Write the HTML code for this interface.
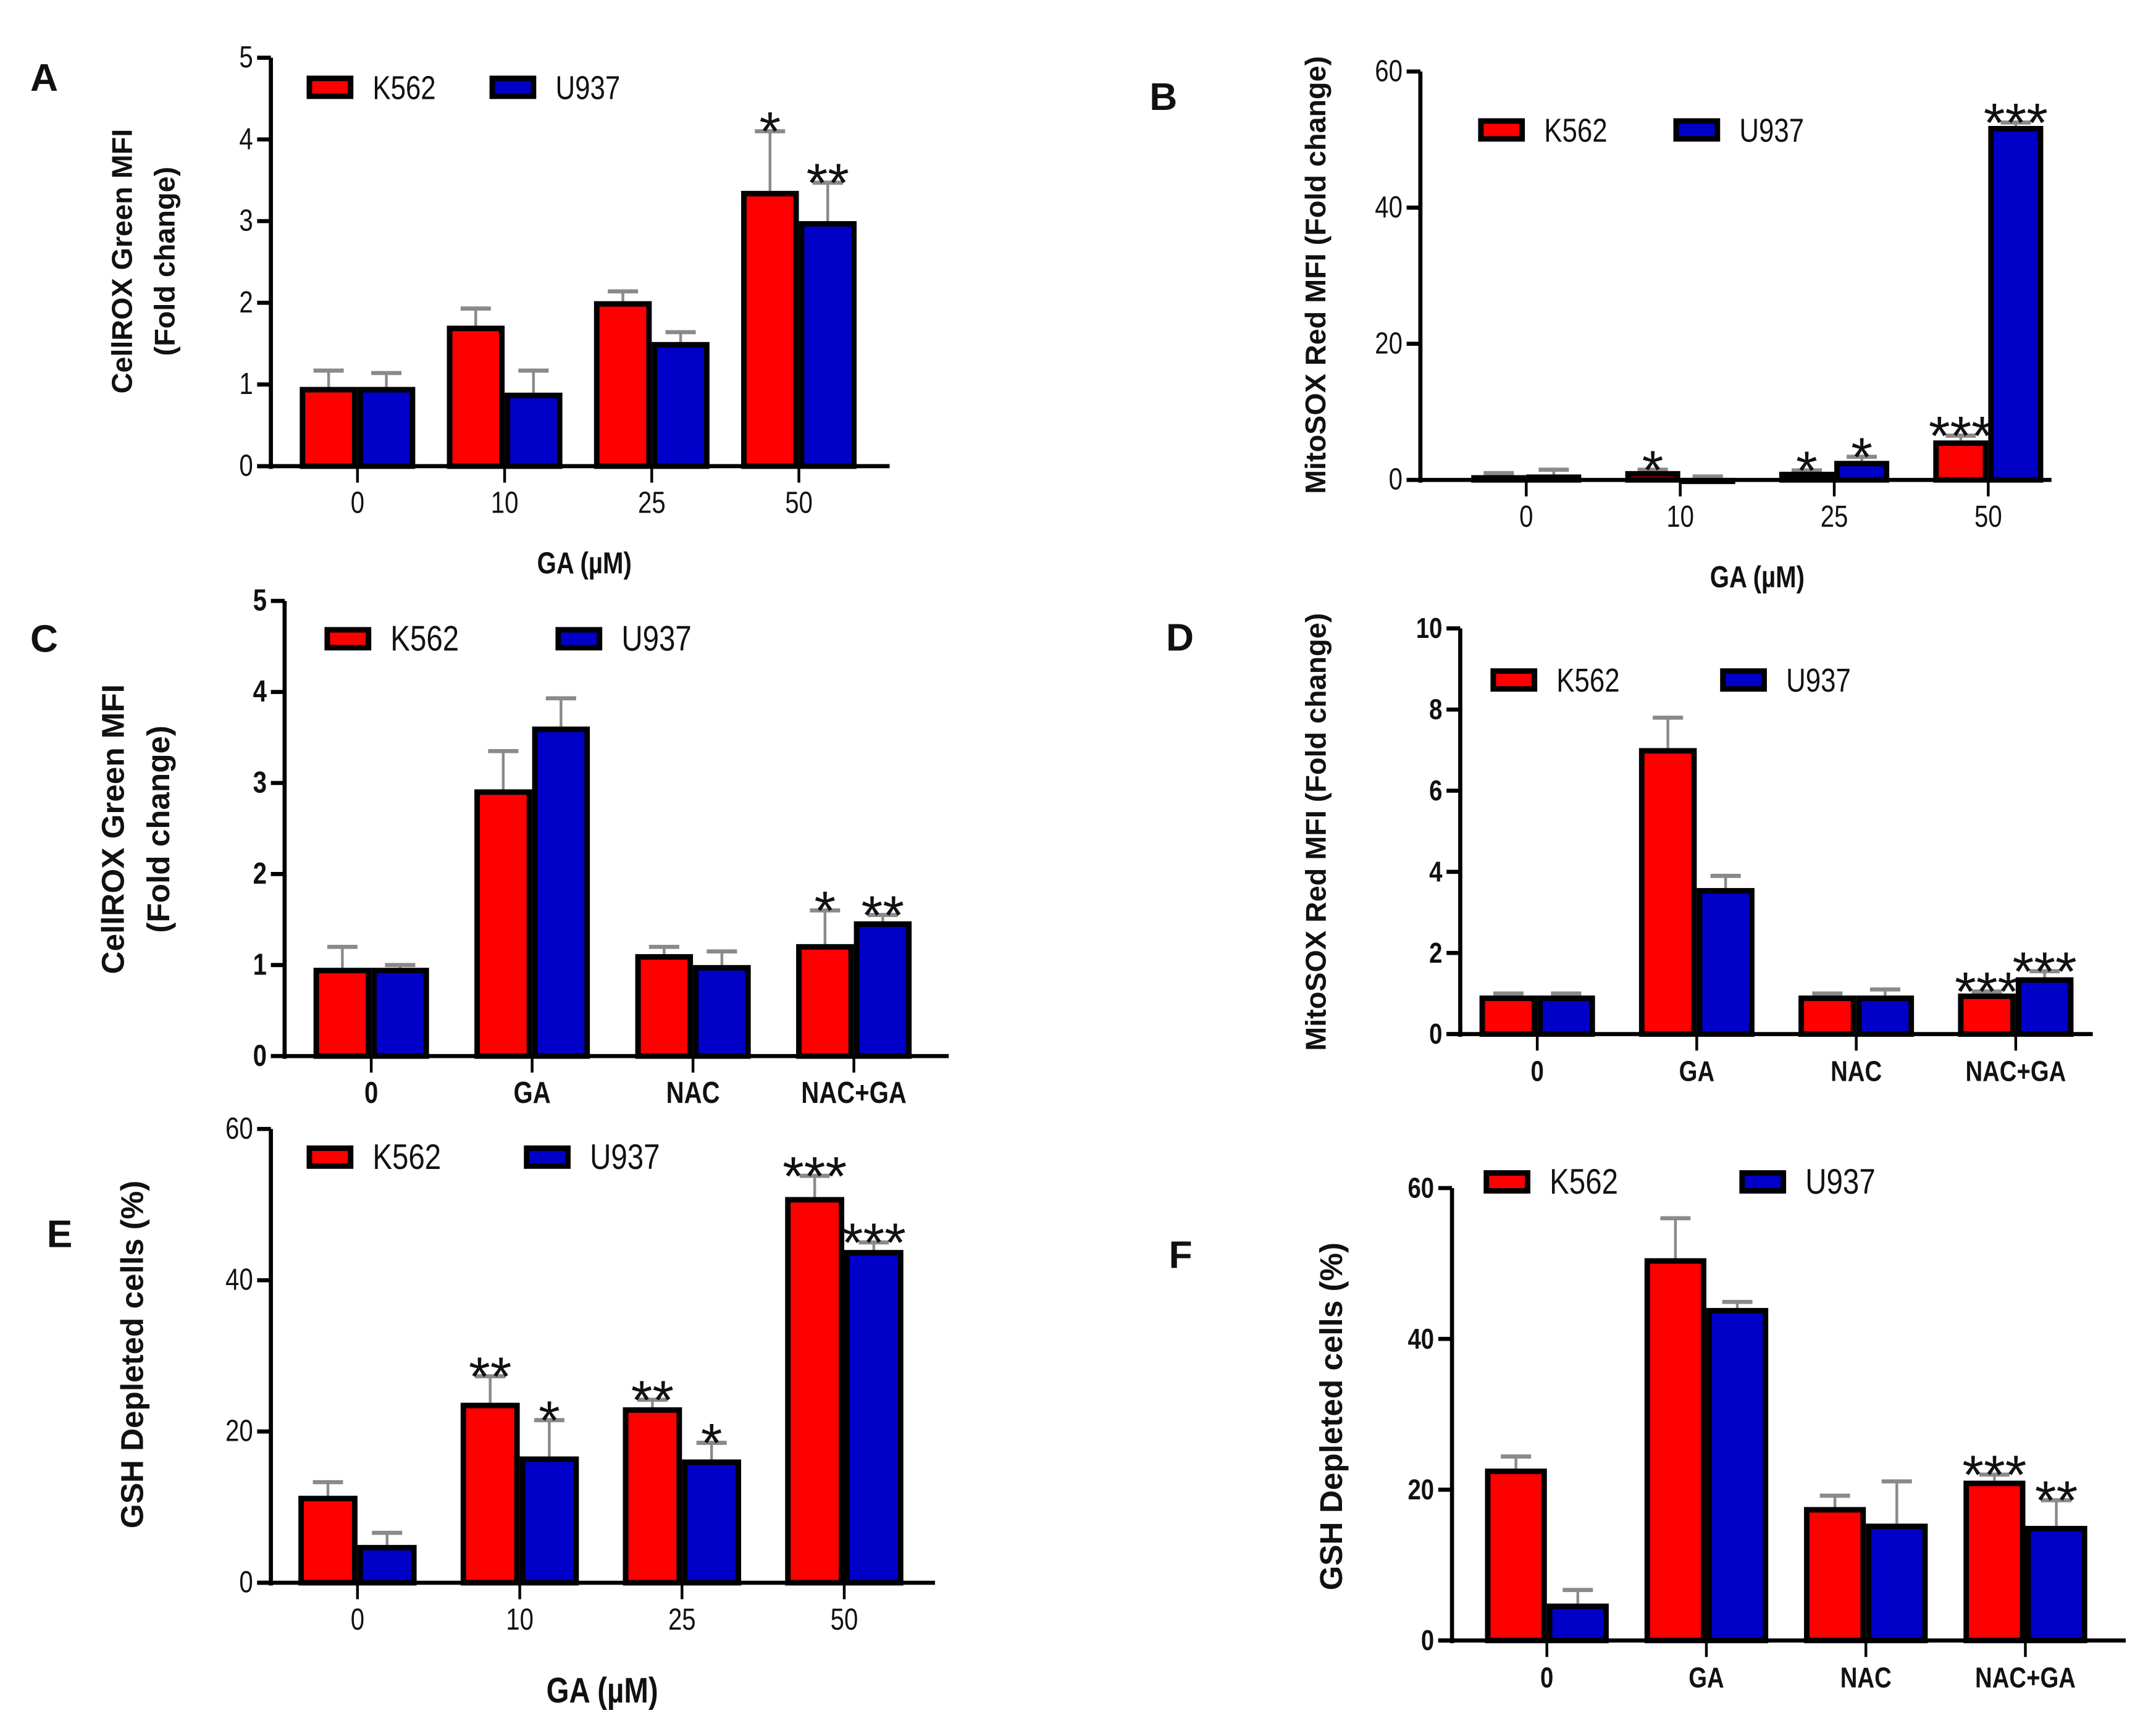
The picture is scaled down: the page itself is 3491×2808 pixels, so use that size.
<!DOCTYPE html>
<html><head><meta charset="utf-8"><style>
html,body{margin:0;padding:0;background:#fff}
svg{display:block}
text{font-family:"Liberation Sans",sans-serif;fill:#111}
.t{font-family:"Liberation Sans",sans-serif;font-weight:bold}
</style></head><body>
<svg id="fig" width="3491" height="2808" viewBox="0 0 1568 1261" preserveAspectRatio="none" xmlns="http://www.w3.org/2000/svg"></svg>
<script>
const catsGA = ["0","10","25","50"];
const catsTrt = ["0","GA","NAC","NAC+GA"];
const aK = [0.97,1.72,2.02,3.37], aKe = [1.17,1.93,2.14,4.1], aU = [0.97,0.9,1.52,3.0], aUe = [1.14,1.17,1.64,3.47];
const aKs = ["","","","*"], aUs = ["","","","**"];
const bK = [0.7,1.3,1.2,5.8], bKe = [1.0,1.5,1.4,6.5], bU = [0.8,0.3,2.8,52], bUe = [1.5,0.5,3.4,52.5];
const bKs = ["","*","*","***"], bUs = ["","","*","***"];
const cK = [0.97,2.93,1.12,1.23], cKe = [1.2,3.35,1.2,1.6], cU = [0.97,3.62,1.0,1.48], cUe = [1.0,3.93,1.15,1.55];
const cKs = ["","","","*"], cUs = ["","","","**"];
const dK = [0.95,7.05,0.95,1.0], dKe = [1.0,7.8,1.0,1.05], dU = [0.95,3.6,0.95,1.4], dUe = [1.0,3.9,1.1,1.55];
const dKs = ["","","","***"], dUs = ["","","","***"];
const eK = [11.5,23.8,23.2,51], eKe = [13.3,27.3,24.2,53.8], eU = [5,16.7,16.3,44], eUe = [6.6,21.5,18.5,45];
const eKs = ["","**","**","***"], eUs = ["","*","*","***"];
const fK = [22.8,50.7,17.7,21.2], fKe = [24.4,56,19.2,22], fU = [4.9,44.1,15.5,15.2], fUe = [6.7,44.9,21.1,18.6];
const fKs = ["","","","***"], fUs = ["","","","**"];
const ticksA = [0,1,2,3,4,5], ticksB = [0,20,40,60], ticksD = [0,2,4,6,8,10], ticksE = [0,20,40,60];

const NS = "http://www.w3.org/2000/svg";
const svg = document.getElementById('fig');
function mk(tag, attrs, parent, txt){
  const e = document.createElementNS(NS, tag);
  for (const k in attrs) e.setAttribute(k, attrs[k]);
  if (txt !== undefined) e.textContent = txt;
  (parent || svg).appendChild(e);
  return e;
}
function ntext(g, x, y, fs, anchor, txt, cls){
  const t = mk('text', {x:0, y:0, 'font-size':fs, 'text-anchor':anchor, transform:`translate(${x} ${y}) scale(0.82 1)`}, g, txt);
  if (cls) t.setAttribute('class', cls);
  return t;
}
function panel(p){
  const g = mk('g', {});
  
  
  const ymax = p.ticks[p.ticks.length-1];
  const Y = v => p.y0 - (v/ymax)*(p.y0 - p.y1);
  const lt = mk('text', {x:p.lx, y:p.ly, 'font-size':28, class:'t'}, g, p.id);
  
  
  const ya = mk('line', {x1:p.ax, y1:p.y0+2, x2:p.ax, y2:p.y1, stroke:'#000', 'stroke-width':3}, g);
  
  
  p.ticks.forEach(t => {
    const y = Y(t);
    mk('line', {x1:p.ax-10, y1:y, x2:p.ax, y2:y, stroke:'#000', 'stroke-width':3}, g);
    const tl = ntext(g, p.ax-13, y+7, p.fs, 'end', String(t), p.catBold?'t':'');
    
    
  });
  const xa = mk('line', {x1:p.ax-10, y1:p.y0, x2:p.xend, y2:p.y0, stroke:'#000', 'stroke-width':3}, g);
  
  
  const bw = p.bw;
  p.cats.forEach((c, i) => {
    const cx = p.cx[0] + i*(p.cx[1]-p.cx[0]);
    mk('line', {x1:cx, y1:p.y0, x2:cx, y2:p.y0+12, stroke:'#000', 'stroke-width':2}, g);
    const cl = ntext(g, cx, p.y0+34, p.fs, 'middle', c, p.catBold?'t':'');
    
    
    [[p.K,p.Ke,p.Ks,'#ff0000',-1,'k562'],[p.U,p.Ue,p.Us,'#0000c8',0,'u937']].forEach(s => {
      const v = s[0][i], e = s[1][i], x = cx + s[4]*bw;
      const ex = x + bw/2;
      const el = mk('line', {x1:ex, y1:Y(v), x2:ex, y2:Y(e), stroke:'#8a8a8a', 'stroke-width':2}, g);
      
      
      mk('line', {x1:ex-11, y1:Y(e), x2:ex+11, y2:Y(e), stroke:'#8a8a8a', 'stroke-width':3}, g);
      const r = mk('rect', {x:x+2, y:Y(v)+2, width:bw-4, height:Math.max(0.5, p.y0-Y(v)-2), fill:s[3], stroke:'#000', 'stroke-width':4}, g);
      
      
      if (s[2][i]) {
        const st = mk('text', {x:ex, y:Y(e)+14, 'font-size':40, 'text-anchor':'middle', 'letter-spacing':'0'}, g, s[2][i]);
        
        
      }
    });
  });
  [[p.leg[0],'#ff0000','K562'],[p.leg[1],'#0000c8','U937']].forEach(l => {
    const sw = mk('rect', {x:l[0], y:p.legY, width:30, height:13, fill:l[1], stroke:'#000', 'stroke-width':4}, g);
    
    
    const lt2 = ntext(g, l[0]+46, p.legY+15, p.legFs, 'start', l[2]);
    
    
  });
  p.ytitle.forEach((t, k) => {
    const x = p.ytx[k], y = p.yty;
    const yt = mk('text', {x:x, y:y, 'font-size':p.ytFs||22, 'text-anchor':'middle', class:'t', transform:`rotate(-90 ${x} ${y})`}, g, t);
    
    
  });
  if (p.xtitle) {
    const xt = ntext(g, p.xtitle[0], p.xtitle[1], p.xtFs||22, 'middle', 'GA (µM)', 't');
    
    
  }
}
panel({id:'A', lx:22, ly:66, ax:197, y0:339, y1:42, xend:647, ticks:ticksA, fs:22, cats:catsGA, cx:[260,367], bw:42,
  K:aK,Ke:aKe,Ks:aKs,U:aU,Ue:aUe,Us:aUs, leg:[225,358], legY:57, legFs:24, ytitle:['CellROX Green MFI','(Fold change)'], ytx:[96,127], yty:190, ytFs:21, xtitle:[425,417]});
panel({id:'B', lx:836, ly:80, ax:1033, y0:349, y1:52, xend:1492, ticks:ticksB, fs:22, cats:catsGA, cx:[1110,1222], bw:40,
  K:bK,Ke:bKe,Ks:bKs,U:bU,Ue:bUe,Us:bUs, leg:[1077,1219], legY:88, legFs:24, ytitle:['MitoSOX Red MFI (Fold change)'], ytx:[964], yty:200, ytFs:21, xtitle:[1278,427]});
panel({id:'C', lx:22, ly:474, ax:207, y0:768, y1:437, xend:690, ticks:ticksA, fs:22, catBold:true, cats:catsTrt, cx:[270,387], bw:42,
  K:cK,Ke:cKe,Ks:cKs,U:cU,Ue:cUe,Us:cUs, leg:[238,406], legY:458, legFs:26, ytitle:['CellROX Green MFI','(Fold change)'], ytx:[90,123], yty:603, ytFs:23});
panel({id:'D', lx:848, ly:473, ax:1062, y0:752, y1:457, xend:1522, ticks:ticksD, fs:21, catBold:true, cats:catsTrt, cx:[1118,1234], bw:42,
  K:dK,Ke:dKe,Ks:dKs,U:dU,Ue:dUe,Us:dUs, leg:[1086,1253], legY:488, legFs:24, ytitle:['MitoSOX Red MFI (Fold change)'], ytx:[964], yty:605, ytFs:21});
panel({id:'E', lx:34, ly:907, ax:197, y0:1151, y1:821, xend:680, ticks:ticksE, fs:22, cats:catsGA, cx:[260,378], bw:43,
  K:eK,Ke:eKe,Ks:eKs,U:eU,Ue:eUe,Us:eUs, leg:[225,383], legY:835, legFs:26, ytitle:['GSH Depleted cells (%)'], ytx:[104], yty:985, ytFs:23, xtitle:[438,1238], xtFs:26});
panel({id:'F', lx:850, ly:922, ax:1056, y0:1193, y1:864, xend:1546, ticks:ticksE, fs:21, catBold:true, cats:catsTrt, cx:[1125,1241], bw:45,
  K:fK,Ke:fKe,Ks:fKs,U:fU,Ue:fUe,Us:fUs, leg:[1081,1267], legY:853, legFs:26, ytitle:['GSH Depleted cells (%)'], ytx:[976], yty:1030, ytFs:23});
</script>
</body></html>
